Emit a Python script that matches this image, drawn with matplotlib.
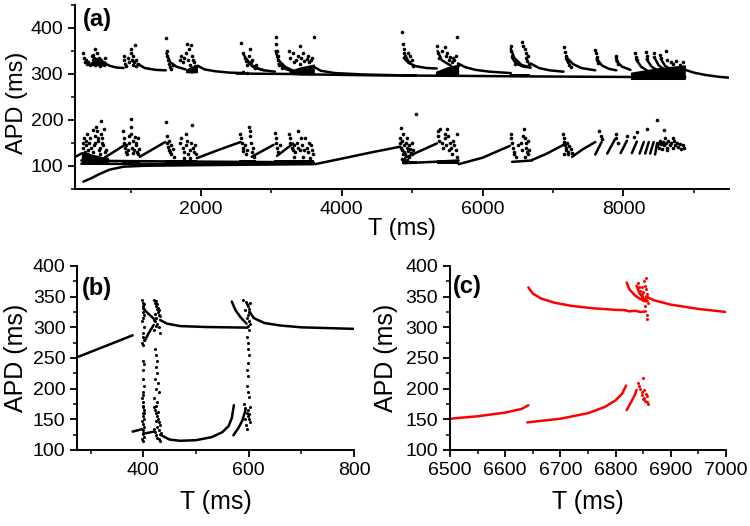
import matplotlib
matplotlib.use("Agg")
import matplotlib.pyplot as plt
from matplotlib.ticker import MultipleLocator

plt.rcParams['font.family'] = ['Liberation Sans', 'DejaVu Sans']

# ---------------- panel (a): APD vs T, long range ----------------
# upper branch, smooth pieces (T, APD)
a_upper_lines = [
    [(600, 326), (700, 318), (800, 314), (900, 313)],
    [(1100, 322), (1200, 313), (1350, 309), (1500, 308)],
    [(1510, 345), (1560, 326), (1650, 316), (1780, 310)],
    [(1950, 318), (2050, 310), (2200, 306), (2400, 303), (2600, 302)],
    [(2600, 345), (2650, 328), (2750, 315), (2900, 308)],
    [(2650, 332), (2720, 318), (2850, 309), (3050, 305)],
    [(3060, 350), (3100, 330), (3200, 315), (3300, 308)],
    [(3100, 322), (3200, 311), (3300, 306)],
    [(3600, 316), (3700, 307), (3900, 302), (4300, 299), (4850, 297)],
    [(4880, 335), (4950, 324), (5050, 317), (5200, 313), (5350, 312)],
    [(5360, 350), (5420, 330), (5550, 318)],
    [(5650, 323), (5750, 315), (5900, 309), (6100, 305), (6400, 302)],
    [(6400, 355), (6450, 335), (6550, 320), (6680, 314)],
    [(6420, 335), (6480, 322), (6580, 316), (6680, 314)],
    [(6680, 323), (6800, 313), (6950, 308), (7150, 305)],
    [(7200, 335), (7280, 322), (7400, 313), (7600, 308)],
    [(7620, 333), (7700, 318), (7800, 311), (7900, 308)],
    [(7900, 328), (7980, 316), (8100, 309)],
    [(8180, 332), (8250, 316), (8350, 306)],
    [(8330, 332), (8400, 316), (8500, 306)],
    [(8440, 336), (8500, 319), (8600, 307)],
    [(8530, 333), (8590, 318), (8700, 307)],
    [(8880, 309), (9000, 303), (9160, 298), (9350, 294), (9500, 292)],
    [(2500, 301), (3300, 300), (3600, 299), (4500, 297), (5650, 296),
     (6400, 295), (7500, 294), (8880, 293)],
]

# lower branch, smooth pieces (T, APD)
a_lower_lines = [
    [(215, 120), (300, 127)],
    [(330, 66), (450, 74), (550, 82), (700, 92), (900, 98.5), (1200, 100.5),
     (2100, 102), (3600, 104)],
    [(300, 112), (700, 111), (1500, 110), (2500, 109), (3600, 108)],
    [(300, 105), (1000, 104.5), (2500, 104.5), (3600, 105)],
    [(650, 120), (920, 146)],
    [(1130, 120), (1490, 152)],
    [(1940, 117), (2250, 135), (2560, 152)],
    [(2720, 120), (3030, 146)],
    [(3080, 122), (3310, 149)],
    [(3620, 104), (4000, 116), (4400, 129), (4830, 142)],
    [(4900, 118), (5350, 149)],
    [(4880, 106), (5300, 109), (5660, 112)],
    [(5660, 104), (6000, 118), (6390, 144)],
    [(6420, 109), (6700, 112)],
    [(6700, 113), (6900, 126), (7150, 146)],
    [(7270, 120), (7430, 137), (7600, 152)],
    [(7600, 125), (7690, 152)],
    [(7770, 127), (7880, 158)],
    [(7960, 128), (8050, 155)],
    [(8120, 128), (8190, 153)],
    [(8230, 127), (8290, 152)],
    [(8310, 127), (8360, 152)],
    [(8380, 127), (8430, 152)],
    [(8450, 125), (8480, 150)],
]

# scattered points, upper branch
a_upper_dots = [
    (330, 345), (340, 335), (350, 325), (360, 330), (380, 322), (400, 326),
    (420, 320), (450, 340), (460, 330), (470, 342), (480, 335), (490, 325),
    (500, 320), (510, 332), (520, 345), (530, 328), (540, 322), (550, 335),
    (560, 318), (580, 330), (600, 325), (620, 320), (640, 335), (500, 355),
    (900, 340), (910, 330), (920, 322), (940, 318), (960, 335), (980, 325),
    (1000, 345), (1010, 355), (1020, 330), (1030, 320), (1040, 340),
    (1050, 325), (1060, 362), (1070, 318), (1080, 330), (1100, 322),
    (1500, 378), (1510, 350), (1520, 340), (1530, 330), (1540, 322),
    (1560, 315), (1580, 310), (1600, 320), (1700, 330), (1720, 340),
    (1740, 325), (1760, 335), (1780, 345), (1800, 365), (1810, 330),
    (1830, 355), (1850, 320), (1860, 362), (1870, 340), (1880, 330),
    (1900, 325), (1920, 318),
    (2570, 367), (2600, 345), (2620, 335), (2640, 328), (2660, 320),
    (2680, 340), (2700, 355), (2710, 325), (2720, 330), (2740, 318),
    (2760, 312), (2780, 320), (2600, 305), (2650, 303),
    (3060, 380), (3070, 365), (3080, 350), (3090, 340), (3100, 330),
    (3110, 320), (3250, 350), (3270, 335), (3300, 345), (3320, 325),
    (3350, 330), (3380, 340), (3400, 322), (3420, 335), (3450, 345),
    (3470, 328), (3500, 332), (3520, 340), (3540, 325), (3560, 330),
    (3580, 335), (3600, 380), (3400, 360), (3150, 312),
    (4860, 392), (4870, 365), (4880, 355), (4890, 345), (4900, 340),
    (4910, 335), (4920, 330), (4940, 345), (4950, 325), (4970, 340),
    (4990, 330), (5010, 318),
    (5350, 360), (5360, 345), (5380, 335), (5420, 350), (5460, 358),
    (5480, 340), (5500, 345), (5520, 330), (5540, 338), (5560, 325),
    (5580, 335), (5600, 330), (5620, 340), (5640, 381), (5650, 320),
    (6400, 360), (6410, 350), (6420, 340), (6440, 330), (6460, 322),
    (6560, 370), (6580, 360), (6600, 355), (6610, 345), (6620, 335),
    (6630, 328), (6650, 340), (6660, 322),
    (7160, 358), (7170, 348), (7180, 340), (7190, 335), (7200, 330),
    (7210, 325), (7230, 320), (7250, 315),
    (7600, 352), (7610, 345), (7620, 338), (7630, 330), (7640, 324),
    (7890, 340), (7900, 334), (7910, 328), (7920, 322),
    (8170, 345), (8180, 338), (8190, 330), (8320, 348), (8330, 340),
    (8340, 332), (8430, 345), (8440, 338), (8520, 342), (8530, 334),
    (8600, 350), (8620, 330), (8680, 325), (8700, 322), (8750, 328),
    (8800, 320), (8850, 325),
]

# scattered points, lower branch
a_lower_dots = [
    (320, 150), (330, 140), (340, 160), (350, 130), (360, 155), (370, 145),
    (380, 170), (390, 125), (400, 135), (410, 150), (420, 115), (430, 160),
    (440, 140), (450, 120), (460, 130), (470, 110), (480, 145), (490, 165),
    (500, 150), (510, 185), (520, 175), (530, 160), (540, 155), (550, 135),
    (560, 140), (570, 125), (580, 170), (590, 160), (600, 150), (610, 145),
    (620, 180), (630, 130), (640, 120), (650, 135), (660, 115), (670, 110),
    (580, 198), (460, 178), (350, 118), (380, 112), (500, 110), (550, 108),
    (890, 175), (900, 160), (910, 150), (920, 140), (930, 130), (940, 145),
    (950, 125), (960, 135), (970, 165), (980, 150), (1000, 185), (1010, 170),
    (1020, 140), (1030, 155), (1040, 128), (1050, 135), (1060, 162),
    (1070, 150), (1080, 145), (1090, 130), (1100, 125), (1110, 160),
    (1120, 138), (1010, 203),
    (1500, 195), (1510, 165), (1520, 150), (1530, 142), (1540, 135),
    (1550, 155), (1560, 130), (1570, 125), (1580, 145), (1600, 138),
    (1620, 120), (1700, 150), (1720, 160), (1740, 140), (1760, 130),
    (1780, 145), (1790, 170), (1800, 155), (1820, 125), (1840, 135),
    (1860, 150), (1870, 190), (1880, 140), (1900, 130), (1920, 145),
    (1930, 125), (1760, 118), (1850, 118),
    (2560, 170), (2570, 160), (2580, 150), (2590, 140), (2600, 132),
    (2620, 145), (2640, 125), (2660, 135), (2680, 185), (2690, 175),
    (2700, 165), (2710, 150), (2720, 130), (2740, 140), (2750, 120),
    (3050, 172), (3060, 160), (3070, 150), (3080, 140), (3100, 130),
    (3120, 145), (3250, 170), (3260, 160), (3270, 150), (3290, 140),
    (3300, 135), (3320, 145), (3340, 130), (3360, 150), (3380, 140),
    (3400, 135), (3420, 160), (3440, 145), (3460, 135), (3480, 160),
    (3500, 140), (3520, 130), (3540, 150), (3560, 145), (3580, 135),
    (3590, 125), (3380, 175), (3320, 120), (3450, 120), (3550, 118),
    (4820, 150), (4830, 160), (4840, 140), (4850, 135), (4860, 155),
    (4870, 170), (4880, 145), (4890, 130), (4900, 125), (4910, 150),
    (4920, 140), (4930, 160), (4940, 132), (4950, 120), (4960, 145),
    (4970, 138), (4980, 128), (4990, 150), (5000, 125), (5010, 135),
    (4860, 115), (4880, 112), (4900, 110), (4920, 113), (4840, 182),
    (5050, 213), (4870, 125),
    (5360, 175), (5370, 165), (5380, 155), (5400, 180), (5420, 150),
    (5440, 140), (5460, 170), (5470, 160), (5480, 145), (5500, 180),
    (5510, 165), (5520, 135), (5530, 150), (5550, 140), (5560, 125),
    (5580, 155), (5600, 145), (5620, 135), (5630, 170), (5640, 120),
    (6400, 170), (6410, 160), (6420, 150), (6430, 140), (6440, 130),
    (6450, 125), (6470, 120), (6500, 145), (6540, 150), (6560, 135),
    (6580, 165), (6590, 180), (6600, 160), (6610, 140), (6620, 150),
    (6630, 130), (6640, 155), (6650, 125), (6660, 135), (6600, 120),
    (7140, 170), (7150, 160), (7160, 152), (7170, 145), (7180, 140),
    (7190, 135), (7200, 150), (7210, 130), (7220, 125), (7230, 143),
    (7250, 138), (7270, 128), (7160, 125),
    (7650, 175), (7680, 165), (7700, 158), (7890, 170), (7900, 160),
    (7920, 150), (8050, 165), (8150, 162), (8200, 173), (8335, 180),
    (8475, 201), (8570, 178),
    (8480, 145), (8500, 150), (8510, 140), (8520, 155), (8540, 148),
    (8550, 138), (8560, 152), (8580, 145), (8590, 160), (8600, 150),
    (8620, 140), (8640, 155), (8660, 145), (8680, 150), (8700, 140),
    (8720, 155), (8740, 145), (8760, 150), (8780, 142), (8800, 148),
    (8820, 138), (8840, 145), (8860, 140), (8620, 135), (8700, 160),
]

# regions so dense they read as solid black: (T, low APD, high APD)
a_dense = [
    ([420, 540, 650], [318, 318, 318], [326, 330, 328]),
    ([1780, 1870, 1950], [303, 302, 303], [310, 318, 316]),
    ([3250, 3420, 3610], [299, 298, 298], [308, 316, 322]),
    ([4860, 5070], [294, 294], [300, 300]),
    ([5330, 5500, 5660], [296, 296, 296], [306, 316, 322]),
    ([6390, 6680], [294, 294], [300, 300]),
    ([8100, 8500, 8880], [288, 288, 288], [304, 314, 320]),
    ([300, 450, 670], [104, 104, 104], [132, 126, 118]),
    ([880, 1140], [102, 102], [114, 114]),
    ([1490, 1950], [102, 102], [114, 114]),
    ([2540, 2780], [103, 103], [112, 112]),
    ([3030, 3600], [103, 103], [113, 113]),
    ([4860, 5070], [104, 104], [111, 111]),
    ([5350, 5660], [105, 105], [112, 112]),
]

# ---------------- panel (b): 275-800 ms ----------------
b_lines = [
    [(277, 252), (330, 270), (380, 287)],
    [(380, 130), (398, 134)],
    [(403, 328), (410, 322), (420, 314)],
    [(403, 278), (410, 290), (420, 304)],
    [(403, 127), (420, 130)],
    [(432, 312), (445, 306), (470, 302), (520, 300.5), (598, 299.5)],
    [(432, 125), (450, 117), (470, 115), (500, 116), (530, 121), (550, 129),
     (562, 139), (568, 152), (572, 173)],
    [(571, 124), (580, 135), (588, 148), (594, 165)],
    [(568, 342), (575, 328), (585, 316), (596, 306)],
    [(602, 325), (610, 315), (630, 307), (660, 303), (700, 300), (800, 297.5)],
]

b_dots = [
    (398, 345), (399, 340), (400, 335), (401, 330), (399, 325), (402, 320),
    (400, 315), (398, 310), (401, 300), (399, 290), (400, 285), (402, 280),
    (398, 275), (400, 272), (401, 338), (399, 332),
    (400, 245), (401, 240), (399, 230), (400, 215), (401, 205), (399, 195),
    (400, 190),
    (398, 185), (399, 178), (400, 170), (401, 165), (399, 160), (400, 155),
    (402, 150), (398, 148), (400, 142), (401, 138), (399, 132), (400, 128),
    (402, 122), (398, 118), (400, 115), (401, 160), (399, 172), (400, 126),
    (420, 345), (422, 340), (424, 335), (426, 330), (428, 325), (430, 320),
    (425, 315), (423, 310), (427, 305), (429, 300), (421, 295), (431, 290),
    (424, 343), (426, 338), (428, 332), (430, 328), (422, 322), (432, 318),
    (420, 312), (425, 302),
    (423, 265), (425, 255), (427, 245), (424, 235), (426, 225), (422, 215),
    (428, 210), (425, 200), (430, 195), (421, 185), (427, 178), (424, 172),
    (420, 170), (422, 165), (424, 160), (426, 155), (428, 150), (430, 145),
    (432, 140), (421, 135), (423, 130), (425, 125), (427, 120), (429, 118),
    (431, 115), (433, 128), (424, 148), (426, 138), (428, 162), (430, 132),
    (590, 345), (595, 342), (596, 338), (598, 335), (600, 330), (601, 325),
    (599, 320), (597, 315), (600, 310), (602, 305), (598, 302), (600, 296),
    (603, 340), (594, 328),
    (597, 285), (599, 275), (598, 265), (600, 255), (598, 242), (597, 230),
    (599, 220), (596, 205), (598, 195), (600, 187),
    (592, 175), (594, 168), (596, 160), (598, 155), (600, 150), (602, 145),
    (595, 140), (597, 135), (599, 165), (601, 158), (593, 150), (603, 170),
]

# ---------------- panel (c): 6500-7000 ms ----------------
c_lines = [
    [(6500, 151), (6550, 155), (6600, 161), (6630, 167), (6642, 173)],
    [(6642, 365), (6650, 355), (6665, 347), (6690, 340), (6720, 335),
     (6760, 331), (6800, 328.5), (6817, 328)],
    [(6817, 328), (6825, 326), (6835, 327), (6845, 325), (6855, 326)],
    [(6640, 145), (6700, 151), (6750, 160), (6780, 170), (6800, 181),
     (6812, 192), (6819, 205)],
    [(6820, 373), (6825, 362), (6835, 352), (6845, 346), (6855, 342)],
    [(6838, 368), (6843, 356), (6850, 348), (6858, 343)],
    [(6855, 350), (6870, 344), (6900, 337), (6950, 330), (7000, 325)],
    [(6820, 165), (6828, 178), (6835, 190), (6838, 198)],
]

c_dots = [
    (6840, 372), (6842, 365), (6845, 360), (6847, 355), (6848, 350),
    (6850, 345), (6852, 375), (6853, 368), (6855, 380), (6855, 362),
    (6856, 355), (6857, 350), (6858, 340), (6854, 335), (6856, 320),
    (6856, 314), (6850, 358), (6848, 366),
    (6840, 210), (6842, 205), (6845, 200), (6847, 195), (6848, 190),
    (6850, 218), (6852, 185), (6853, 180), (6855, 192), (6856, 178),
    (6857, 188), (6858, 175), (6851, 198), (6849, 183),
]


def draw_lines(ax, segs, color):
    for seg in segs:
        t, v = zip(*seg)
        ax.plot(t, v, color=color, lw=1.8, solid_capstyle='round')


def draw_dots(ax, pts, color, ms=2.6):
    t, v = zip(*pts)
    ax.plot(t, v, 'o', color=color, ms=ms, mec='none')


def style(ax):
    for s in ['top', 'right']:
        ax.spines[s].set_visible(False)
    for s in ['left', 'bottom']:
        ax.spines[s].set_linewidth(1.4)
    ax.tick_params(which='major', direction='out', length=5, width=1.3,
                   labelsize=14)
    ax.tick_params(which='minor', direction='out', length=3, width=1.1)


fig = plt.figure(figsize=(7.5, 5.26), dpi=100)

# (a)
ax1 = fig.add_axes([0.100, 0.6407, 0.872, 0.3498])
draw_lines(ax1, a_upper_lines, 'k')
draw_lines(ax1, a_lower_lines, 'k')
for t, lo, hi in a_dense:
    ax1.fill_between(t, lo, hi, color='k', lw=0)
draw_dots(ax1, a_upper_dots, 'k')
draw_dots(ax1, a_lower_dots, 'k')
ax1.set_xlim(210, 9500)
ax1.set_ylim(50, 450)
ax1.xaxis.set_major_locator(MultipleLocator(2000))
ax1.xaxis.set_minor_locator(MultipleLocator(1000))
ax1.yaxis.set_major_locator(MultipleLocator(100))
ax1.yaxis.set_minor_locator(MultipleLocator(50))
style(ax1)
ax1.set_xlabel('T (ms)', fontsize=17)
ax1.set_ylabel('APD (ms)', fontsize=17)
ax1.xaxis.set_label_coords(0.5, -0.16)
ax1.yaxis.set_label_coords(-0.072, 0.47)
ax1.text(0.012, 0.985, '(a)', transform=ax1.transAxes, fontsize=17,
         fontweight='bold', ha='left', va='top')

# (b)
ax2 = fig.add_axes([0.1031, 0.1445, 0.369, 0.3498])
draw_lines(ax2, b_lines, 'k')
draw_dots(ax2, b_dots, 'k', ms=2.2)
ax2.set_xlim(275, 800)
ax2.set_ylim(100, 400)
ax2.xaxis.set_major_locator(MultipleLocator(200))
ax2.xaxis.set_minor_locator(MultipleLocator(100))
ax2.yaxis.set_major_locator(MultipleLocator(50))
ax2.yaxis.set_minor_locator(MultipleLocator(25))
style(ax2)
ax2.set_xlabel('T (ms)', fontsize=18)
ax2.set_ylabel('APD (ms)', fontsize=18)
ax2.xaxis.set_label_coords(0.5, -0.22)
ax2.yaxis.set_label_coords(-0.178, 0.5)
ax2.text(0.018, 0.94, '(b)', transform=ax2.transAxes, fontsize=17,
         fontweight='bold', ha='left', va='top')

# (c)
ax3 = fig.add_axes([0.600, 0.1445, 0.368, 0.3498])
draw_lines(ax3, c_lines, 'red')
draw_dots(ax3, c_dots, 'red', ms=2.2)
ax3.set_xlim(6500, 7000)
ax3.set_ylim(100, 400)
ax3.xaxis.set_major_locator(MultipleLocator(100))
ax3.xaxis.set_minor_locator(MultipleLocator(50))
ax3.yaxis.set_major_locator(MultipleLocator(50))
ax3.yaxis.set_minor_locator(MultipleLocator(25))
style(ax3)
ax3.set_xlabel('T (ms)', fontsize=18)
ax3.set_ylabel('APD (ms)', fontsize=18)
ax3.xaxis.set_label_coords(0.5, -0.22)
ax3.yaxis.set_label_coords(-0.19, 0.5)
ax3.text(0.012, 0.95, '(c)', transform=ax3.transAxes, fontsize=17,
         fontweight='bold', ha='left', va='top')

fig.savefig('out.png', dpi=100)
